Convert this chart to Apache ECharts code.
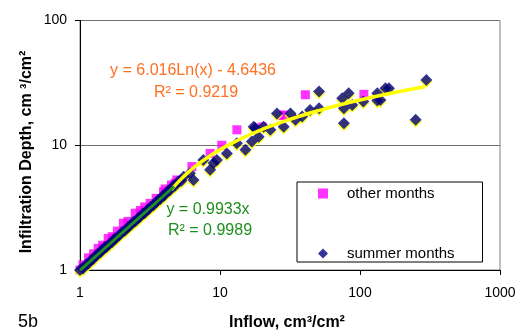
<!DOCTYPE html>
<html>
<head>
<meta charset="utf-8">
<script src="https://cdn.jsdelivr.net/npm/echarts@6/dist/echarts.min.js"></script>
<style>
html,body{margin:0;padding:0;background:#fff;}
#c{width:526px;height:333px;}
</style>
</head>
<body>
<div id="c"></div>
<script>
// Data: [inflow, infiltration depth]
var otherMonths = [
  [1,1],[1.05,1.1],[1.15,1.25],[1.25,1.35],[1.35,1.49],[1.45,1.58],[1.59,1.79],[1.7,1.85],
  [1.85,2.05],[2.04,2.37],[2.2,2.45],[2.48,2.85],[2.7,3.0],[2.9,3.2],[3.17,3.42],[3.5,3.75],
  [3.95,4.24],[4.06,4.46],[4.5,4.8],[4.79,4.96],[4.92,5.27],[6.3,6.75],[8.5,8.6],[10.3,10.0],
  [13.2,13.3],[20,14.0],[27,17.3],[28.5,17.5],[40.7,25.4],[106.6,25.6]
];
var summerMonths = [
  [1.0,1.0],[1.05,1.03],[1.1,1.1],[1.15,1.13],[1.2,1.2],[1.25,1.23],[1.3,1.3],[1.35,1.36],
  [1.4,1.38],[1.45,1.45],[1.5,1.52],[1.55,1.53],[1.6,1.6],[1.7,1.68],[1.75,1.76],[1.8,1.8],
  [1.9,1.88],[2.0,2.02],[2.1,2.07],[2.2,2.2],[2.3,2.28],[2.4,2.42],[2.5,2.47],[2.6,2.6],
  [2.7,2.68],[2.8,2.83],[2.9,2.87],[3.0,3.0],[3.1,3.08],[3.2,3.22],[3.35,3.3],[3.5,3.5],
  [3.6,3.62],[3.75,3.7],[3.9,3.93],[4.0,3.95],[4.2,4.25],[4.4,4.35],[4.6,4.7],[4.8,4.75],
  [5.0,5.1],[5.3,5.2],[5.5,5.6],[6.1,5.96],[6.47,5.27],[7.6,7.6],[9.0,7.2],[9.5,7.6],
  [8.5,6.35],[11.2,8.6],[13.2,10.4],[15.2,9.2],[17.4,14.1],[20.5,14.1],[18.9,11.7],
  [16.9,10.7],[17.9,13.7],[22.9,13.3],[25.5,18.0],[28.5,14.1],[31.9,18.0],[34.6,16.0],
  [38.6,17.0],[44,19.2],[51,19.8],[51,27.0],[74.7,23.8],[83,26.1],[76.7,19.8],[76.7,15.0],
  [88,21.0],[105.6,22.4],[133,26.1],[133,22.8],[140,23.1],[152,28.6],[161,28.6],[250,16.0],[298,33.4]
];
// Trend lines
var logTrendX = [4.5,5,6,7,8,10,12,15,20,25,30,40,50,70,100,150,200,290];
var logTrendY = [4.40,5.04,6.14,7.06,7.87,9.21,10.31,11.65,13.38,14.72,15.82,17.55,18.89,20.92,23.06,25.50,27.23,29.47];
var linTrendX = [1,4.7];
var linTrendY = [0.9933,4.67];
var xTicks = [1,10,100,1000];
var yTicks = [1,10,100];

function zip(a,b){var r=[];for(var i=0;i<a.length;i++)r.push([a[i],b[i]]);return r;}

var FONT = 'Liberation Sans, Arial, sans-serif';
var chart = echarts.init(document.getElementById('c'), null, {renderer:'canvas'});
var gridL = 80, gridT = 20.5, gridR = 26, gridB = 63;
chart.setOption({
  animation:false,
  backgroundColor:'#fff',
  grid:{left:gridL, top:gridT, right:gridR, bottom:gridB, show:true, borderColor:'#808080', borderWidth:1, backgroundColor:'transparent'},
  xAxis:{
    type:'log', logBase:10, min:xTicks[0], max:xTicks[xTicks.length-1],
    axisLine:{show:true, onZero:false, lineStyle:{color:'#000', width:1}},
    axisTick:{show:true, inside:false, length:5, lineStyle:{color:'#000'}},
    minorTick:{show:false},
    splitLine:{show:false},
    axisLabel:{color:'#000', fontSize:14, fontFamily:FONT, margin:16,
      formatter:function(v){return xTicks.indexOf(Math.round(v))>=0?String(Math.round(v)):'';}}
  },
  yAxis:{
    type:'log', logBase:10, min:yTicks[0], max:yTicks[yTicks.length-1],
    axisLine:{show:true, onZero:false, lineStyle:{color:'#000', width:1}},
    axisTick:{show:true, inside:false, length:5, lineStyle:{color:'#000'}},
    minorTick:{show:false},
    splitLine:{show:true, lineStyle:{color:'#6e6e6e', width:1}},
    axisLabel:{color:'#000', fontSize:14, fontFamily:FONT, margin:13,
      formatter:function(v){return yTicks.indexOf(Math.round(v))>=0?String(Math.round(v)):'';}}
  },
  legend:{
    orient:'vertical', left:297, top:182,
    padding:[4,28,1,21],
    itemGap:45, itemWidth:10, itemHeight:10,
    borderColor:'#000', borderWidth:1, backgroundColor:'#fff',
    textStyle:{color:'#000', fontSize:15, fontFamily:FONT, padding:[0,0,0,14]},
    data:[{name:'other months', icon:'rect'},{name:'summer months', icon:'diamond'}],
    selectedMode:false
  },
  series:[
    {name:'other months', type:'scatter', data:otherMonths, symbol:'rect', symbolSize:9,
      itemStyle:{color:'#ff00ff'}, z:2},
    {name:'summer shadow', type:'scatter', data:summerMonths, symbol:'diamond', symbolSize:[12,12],
      symbolOffset:[0,2], itemStyle:{color:'#ffff00'}, z:3, silent:true},
    {name:'summer months', type:'scatter', data:summerMonths, symbol:'diamond', symbolSize:[12,12],
      itemStyle:{color:'#000080'}, z:4},
    {name:'log trend', type:'line', data:zip(logTrendX,logTrendY), smooth:true, showSymbol:false,
      lineStyle:{color:'#ffff00', width:3.5}, z:5, silent:true},
    {name:'linear trend', type:'line', data:zip(linTrendX,linTrendY), showSymbol:false,
      lineStyle:{color:'#1f8f1f', width:3}, z:6, silent:true}
  ],
  graphic:[
    {type:'text', x:193, y:71, style:{text:'y = 6.016Ln(x) - 4.6436', font:'16px '+FONT, fill:'#ff6f21', align:'center', verticalAlign:'middle', textAlign:'center', textVerticalAlign:'middle'}, z:10},
    {type:'text', x:196, y:93, style:{text:'R² = 0.9219', font:'16px '+FONT, fill:'#ff6f21', align:'center', verticalAlign:'middle', textAlign:'center', textVerticalAlign:'middle'}, z:10},
    {type:'text', x:208, y:210, style:{text:'y = 0.9933x', font:'16px '+FONT, fill:'#1f8f1f', align:'center', verticalAlign:'middle', textAlign:'center', textVerticalAlign:'middle'}, z:10},
    {type:'text', x:210, y:231, style:{text:'R² = 0.9989', font:'16px '+FONT, fill:'#1f8f1f', align:'center', verticalAlign:'middle', textAlign:'center', textVerticalAlign:'middle'}, z:10},
    {type:'text', x:287, y:323, style:{text:'Inflow, cm³/cm²', font:'bold 16px '+FONT, fill:'#000', align:'center', verticalAlign:'middle', textAlign:'center', textVerticalAlign:'middle'}, z:10},
    {type:'text', x:27, y:152, rotation:Math.PI/2, style:{text:'Infiltration Depth, cm ³/cm²', font:'bold 16px '+FONT, fill:'#000', align:'center', verticalAlign:'middle', textAlign:'center', textVerticalAlign:'middle'}, z:10},
    {type:'text', x:18, y:322, style:{text:'5b', font:'18px '+FONT, fill:'#000', align:'left', verticalAlign:'middle', textAlign:'left', textVerticalAlign:'middle'}, z:10}
  ]
});
</script>
</body>
</html>
